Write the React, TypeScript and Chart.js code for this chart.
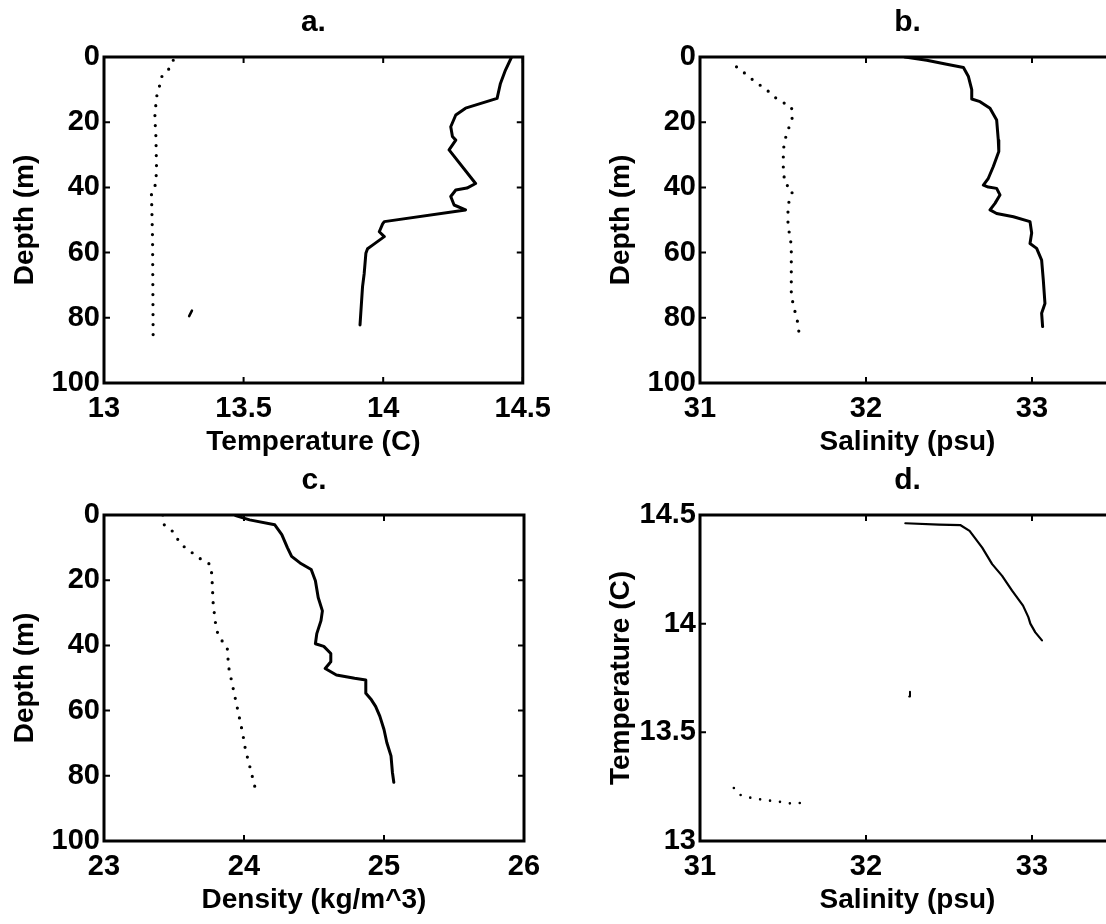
import React, { useEffect, useRef } from 'react';
import { Chart, registerables } from 'chart.js';

Chart.register(...registerables);

const FONT = "'Liberation Sans', Arial, Helvetica, sans-serif";

// ---------- tick labels ----------
const depthTicks = [0, 20, 40, 60, 80, 100];
const tempTicks = [13, 13.5, 14, 14.5];
const salinityTicks = [31, 32, 33];
const densityTicks = [23, 24, 25, 26];

// ---------- panel a: temperature profiles ----------
const warmTemp = [14.46, 14.438, 14.42, 14.408, 14.295, 14.26, 14.242, 14.248, 14.26, 14.236, 14.331, 14.3, 14.26, 14.242, 14.254, 14.295, 14.004, 13.998, 13.986, 14.004, 13.962, 13.944, 13.938, 13.932, 13.926, 13.917];
const warmTempDepth = [0, 4, 8.1, 12.7, 15.7, 17.8, 21.4, 24.4, 25.5, 28.5, 38.8, 40.2, 40.8, 42.8, 45.4, 46.9, 50.5, 51.2, 53.6, 55.1, 57.7, 58.8, 60.2, 66.4, 70.5, 82.2];
const coolTemp = [13.248, 13.23, 13.206, 13.198, 13.188, 13.182, 13.186, 13.188, 13.186, 13.17, 13.174, 13.176];
const coolTempDepth = [1, 4, 6.1, 9.2, 12.3, 18.4, 24.5, 33.7, 38.8, 41.9, 56.2, 85.3];
const strayTemp = [13.305, 13.315];
const strayTempDepth = [79.5, 77.8];

// ---------- panel b: salinity profiles ----------
const warmSal = [32.235, 32.366, 32.486, 32.587, 32.617, 32.637, 32.637, 32.687, 32.747, 32.787, 32.797, 32.8, 32.767, 32.737, 32.707, 32.737, 32.787, 32.807, 32.777, 32.747, 32.787, 32.888, 32.988, 32.998, 32.988, 33.028, 33.058, 33.068, 33.078, 33.058, 33.064];
const warmSalDepth = [0, 1, 2.2, 3.2, 6, 10, 12.9, 13.7, 15.7, 19.3, 25.5, 29, 33.6, 37.2, 39.3, 39.9, 40.3, 42.3, 44.9, 46.9, 48, 49, 50.5, 54, 57.2, 58.7, 62.3, 68.4, 75.6, 78.6, 82.7];
const coolSal = [31.22, 31.27, 31.33, 31.4, 31.45, 31.49, 31.55, 31.56, 31.52, 31.506, 31.5, 31.51, 31.56, 31.53, 31.53, 31.55, 31.55, 31.55, 31.56, 31.59, 31.6];
const coolSalDepth = [3, 5, 7.5, 10, 12.3, 13.7, 15.2, 18, 24, 26.5, 32.6, 38.8, 40.8, 45.4, 51.5, 57.7, 66.9, 72.5, 75.6, 81.7, 86.3];

// ---------- panel c: density profiles ----------
const warmDens = [23.94, 24.04, 24.22, 24.27, 24.31, 24.34, 24.4, 24.48, 24.51, 24.53, 24.56, 24.55, 24.52, 24.51, 24.57, 24.62, 24.62, 24.58, 24.66, 24.79, 24.87, 24.87, 24.91, 24.94, 24.97, 25.0, 25.02, 25.05, 25.06, 25.07];
const warmDensDepth = [0.2, 1.5, 3, 6, 10, 12.7, 14.7, 16.7, 20.2, 25.3, 29.4, 32.4, 36.4, 39.5, 40.3, 42.5, 45, 47.1, 49.1, 50.1, 50.6, 54.7, 56.7, 58.7, 61.7, 65.8, 69.8, 73.9, 78.9, 82];
const coolDens = [23.42, 23.43, 23.49, 23.55, 23.68, 23.76, 23.77, 23.78, 23.8, 23.82, 23.88, 23.89, 23.94, 23.99, 24.01, 24.04, 24.09];
const coolDensDepth = [0, 3, 5, 9, 13.2, 15.2, 18.2, 27.3, 34.4, 37.4, 40.5, 46.6, 56.7, 66.8, 71.9, 76.9, 85.5];

// ---------- panel d: T-S diagram ----------
const warmTsSal = [32.237, 32.44, 32.57, 32.624, 32.7, 32.76, 32.82, 32.88, 32.946, 32.978, 32.99, 33.02, 33.06];
const warmTsTemp = [14.462, 14.456, 14.453, 14.427, 14.35, 14.274, 14.22, 14.152, 14.083, 14.03, 14.0, 13.96, 13.923];
const coolTsSal = [31.204, 31.237, 31.31, 31.376, 31.45, 31.495, 31.56, 31.606];
const coolTsTemp = [13.244, 13.213, 13.198, 13.19, 13.183, 13.179, 13.171, 13.175];
const strayTsSal = [32.26, 32.265];
const strayTsTemp = [13.665, 13.687];

const zip = (xs: number[], ys: number[]) => xs.map((x, i) => ({ x, y: ys[i] }));

const solid = (xs: number[], ys: number[], w = 3) => ({
  data: zip(xs, ys),
  showLine: true,
  borderColor: '#000',
  backgroundColor: '#000',
  borderWidth: w,
  pointRadius: 0,
  borderJoinStyle: 'round',
  borderCapStyle: 'round',
});

const dotted = (xs: number[], ys: number[], w = 3.2) => ({
  data: zip(xs, ys),
  showLine: true,
  borderColor: '#000',
  backgroundColor: '#000',
  borderWidth: w,
  pointRadius: 0,
  borderDash: [0, 10],
  borderCapStyle: 'round',
});

const framePlugin = {
  id: 'frame',
  afterDatasetsDraw(chart: any) {
    const { ctx, chartArea, scales } = chart;
    const { left, right, top, bottom } = chartArea;
    const tl = 6;
    ctx.save();
    ctx.strokeStyle = '#000';
    ctx.lineWidth = 2;
    ctx.beginPath();
    scales.x.ticks.forEach((t: any) => {
      const p = scales.x.getPixelForValue(t.value);
      ctx.moveTo(p, bottom);
      ctx.lineTo(p, bottom - tl);
      ctx.moveTo(p, top);
      ctx.lineTo(p, top + tl);
    });
    scales.y.ticks.forEach((t: any) => {
      const p = scales.y.getPixelForValue(t.value);
      ctx.moveTo(left, p);
      ctx.lineTo(left + tl, p);
      ctx.moveTo(right, p);
      ctx.lineTo(right - tl, p);
    });
    ctx.stroke();
    ctx.lineWidth = 3;
    ctx.strokeRect(left, top, right - left, bottom - top);
    ctx.restore();
  },
};

type PanelProps = {
  left: number; top: number; width: number; height: number;
  area: { left: number; right: number; top: number; bottom: number };
  title: string; xTitle: string; yTitle: string;
  xMin: number; xMax: number; xTicks: number[];
  yMin: number; yMax: number; yTicks: number[]; yReverse: boolean;
  datasets: any[];
};

function Panel(p: PanelProps) {
  const ref = useRef<HTMLCanvasElement | null>(null);
  useEffect(() => {
    if (!ref.current) return;
    const yAxisWidth = p.area.left - p.left;
    const xAxisHeight = p.top + p.height - p.area.bottom;
    const padRight = p.left + p.width - p.area.right;
    const titleH = p.area.top - p.top;
    const tickFont = { family: FONT, size: 29, weight: 'bold' };
    const titleFont = { family: FONT, size: 28, weight: 'bold' };
    const chart = new Chart(ref.current, {
      type: 'scatter',
      data: { datasets: p.datasets },
      options: {
        animation: false,
        responsive: false,
        devicePixelRatio: 1,
        events: [],
        layout: { padding: { left: 0, right: padRight, top: 0, bottom: 0 } },
        plugins: {
          legend: { display: false },
          tooltip: { enabled: false },
          title: {
            display: true,
            text: p.title,
            fullSize: false,
            color: '#000',
            font: { family: FONT, size: 30, weight: 'bold' },
            padding: { top: 5, bottom: titleH - 36 - 5 },
          },
        },
        scales: {
          x: {
            type: 'linear',
            position: 'bottom',
            min: p.xMin,
            max: p.xMax,
            grid: { display: false, drawTicks: false },
            border: { display: false },
            ticks: {
              color: '#000',
              font: tickFont,
              padding: 9,
              maxRotation: 0,
              autoSkip: false,
              callback: (v: any) => String(v),
            },
            afterBuildTicks: (s: any) => { s.ticks = p.xTicks.map((value) => ({ value })); },
            afterFit: (s: any) => { s.height = xAxisHeight; },
            title: { display: true, text: p.xTitle, color: '#000', font: titleFont, padding: { top: 0, bottom: 1 } },
          },
          y: {
            type: 'linear',
            position: 'left',
            min: p.yMin,
            max: p.yMax,
            reverse: p.yReverse,
            grid: { display: false, drawTicks: false },
            border: { display: false },
            ticks: {
              color: '#000',
              font: tickFont,
              padding: 4,
              autoSkip: false,
              callback: (v: any) => String(v),
            },
            afterBuildTicks: (s: any) => { s.ticks = p.yTicks.map((value) => ({ value })); },
            afterFit: (s: any) => { s.width = yAxisWidth; },
            title: { display: true, text: p.yTitle, color: '#000', font: titleFont, padding: { top: 8, bottom: 0 } },
          },
        },
      },
      plugins: [framePlugin],
    } as any);
    return () => chart.destroy();
  }, []);
  return (
    <canvas
      ref={ref}
      width={p.width}
      height={p.height}
      style={{ position: 'absolute', left: p.left, top: p.top, width: p.width, height: p.height }}
    />
  );
}

export default function App() {
  return (
    <div style={{ position: 'absolute', left: 0, top: 0, width: 1106, height: 924, overflow: 'hidden', background: '#fff' }}>
      <Panel
        left={0} top={0} width={560} height={460}
        area={{ left: 104, right: 524, top: 57, bottom: 383 }}
        title="a." xTitle="Temperature (C)" yTitle="Depth (m)"
        xMin={13} xMax={14.5} xTicks={tempTicks}
        yMin={0} yMax={100} yTicks={depthTicks} yReverse={true}
        datasets={[solid(warmTemp, warmTempDepth), dotted(coolTemp, coolTempDepth), solid(strayTemp, strayTempDepth, 2.5)]}
      />
      <Panel
        left={596} top={0} width={555} height={460}
        area={{ left: 700, right: 1115, top: 57, bottom: 383 }}
        title="b." xTitle="Salinity (psu)" yTitle="Depth (m)"
        xMin={31} xMax={33.5} xTicks={salinityTicks}
        yMin={0} yMax={100} yTicks={depthTicks} yReverse={true}
        datasets={[solid(warmSal, warmSalDepth), dotted(coolSal, coolSalDepth)]}
      />
      <Panel
        left={0} top={458} width={560} height={460}
        area={{ left: 104, right: 524, top: 515, bottom: 841 }}
        title="c." xTitle="Density (kg/m^3)" yTitle="Depth (m)"
        xMin={23} xMax={26} xTicks={densityTicks}
        yMin={0} yMax={100} yTicks={depthTicks} yReverse={true}
        datasets={[solid(warmDens, warmDensDepth), dotted(coolDens, coolDensDepth)]}
      />
      <Panel
        left={596} top={458} width={555} height={460}
        area={{ left: 700, right: 1115, top: 515, bottom: 841 }}
        title="d." xTitle="Salinity (psu)" yTitle="Temperature (C)"
        xMin={31} xMax={33.5} xTicks={salinityTicks}
        yMin={13} yMax={14.5} yTicks={tempTicks} yReverse={false}
        datasets={[solid(warmTsSal, warmTsTemp, 2.2), dotted(coolTsSal, coolTsTemp, 2.6), solid(strayTsSal, strayTsTemp, 2)]}
      />
    </div>
  );
}
